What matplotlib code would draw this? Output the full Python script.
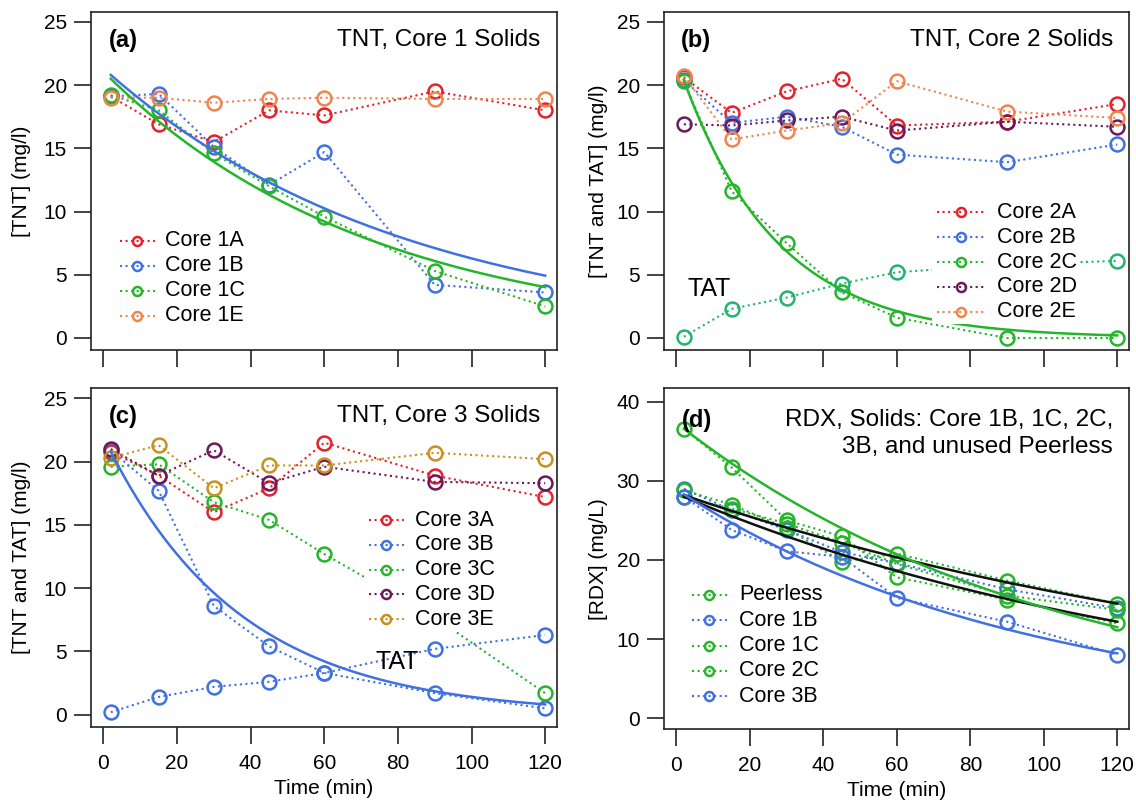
import numpy as np
import matplotlib
matplotlib.use('Agg')
import matplotlib.pyplot as plt
from matplotlib.patches import Rectangle

plt.rcParams['font.family'] = ['Liberation Sans', 'DejaVu Sans']

W, H = 1136, 806

# ---------------- data ----------------
time = [2, 15, 30, 45, 60, 90, 120]

# panel (a)
a_labels = ['Core 1A', 'Core 1B', 'Core 1C', 'Core 1E']
core1A = [19.1, 16.9, 15.5, 18.0, 17.6, 19.5, 18.0]
core1B = [19.1, 19.3, 15.1, 12.1, 14.7, 4.2, 3.6]
core1C = [19.2, 18.0, 14.6, 12.0, 9.6, 5.3, 2.5]
core1E = [19.0, 19.0, 18.6, 18.9, 19.0, 18.9, 18.9]
a_fit_c0 = [20.8, 20.5]        # blue, green (value at t=2)
a_fit_k = [0.0122, 0.0138]

# panel (b)
b_labels = ['Core 2A', 'Core 2B', 'Core 2C', 'Core 2D', 'Core 2E']
core2A = [20.6, 17.8, 19.5, 20.5, 16.8, 17.1, 18.5]
core2B = [20.4, 17.0, 17.5, 16.7, 14.5, 13.9, 15.3]
core2C = [20.3, 11.6, 7.5, 3.6, 1.6, 0.0, 0.0]
core2D = [16.9, 16.8, 17.2, 17.5, 16.4, 17.1, 16.7]
core2E = [20.7, 15.7, 16.4, 17.0, 20.3, 17.9, 17.4]
tat2C = [0.1, 2.3, 3.2, 4.3, 5.2, 5.8, 6.1]
b_fit_c0 = [20.4]
b_fit_k = [0.039]

# panel (c)
c_labels = ['Core 3A', 'Core 3B', 'Core 3C', 'Core 3D', 'Core 3E']
core3A = [20.8, 18.9, 16.0, 17.9, 21.5, 18.9, 17.2]
core3B = [20.9, 17.7, 8.6, 5.4, 3.3, 1.7, 0.5]
core3C = [19.6, 19.8, 16.8, 15.4, 12.7, 7.7, 1.7]
core3D = [21.0, 18.9, 20.9, 18.3, 19.6, 18.4, 18.3]
core3E = [20.3, 21.3, 17.9, 19.7, 19.7, 20.7, 20.2]
tat3B = [0.2, 1.4, 2.2, 2.6, 3.3, 5.2, 6.3]
c_fit_c0 = [20.8]
c_fit_k = [0.0275]

# panel (d)
d_labels = ['Peerless', 'Core 1B', 'Core 1C', 'Core 2C', 'Core 3B']
rdx_peerless = [36.6, 31.7, 25.0, 23.0, 17.8, 15.0, 12.0]
rdx_1B = [29.0, 26.3, 23.8, 21.0, 19.6, 16.3, 13.9]
rdx_1C = [28.8, 27.0, 24.0, 19.8, 20.8, 17.4, 14.5]
rdx_2C = [27.9, 26.5, 24.6, 22.2, 19.5, 15.5, 13.7]
rdx_3B = [28.0, 23.8, 21.1, 20.4, 15.2, 12.2, 8.0]
d_fit_c0 = [28.2, 28.0, 36.6, 28.3]   # black, black, green, blue
d_fit_k = [0.00564, 0.00704, 0.00981, 0.0105]

# ---------------- styles ----------------
RED = '#e4212b'
BLUE = '#4170e0'
GREEN = '#25b52a'
ORANGE = '#f0844e'
PURPLE = '#6a1a5c'
GOLD = '#c8901e'
TEAL = '#22b46e'
BLACK = '#111111'

FS_TICK = 15
FS_LEG = 15.5
FS_TITLE = 17.5

fig = plt.figure(figsize=(W / 100, H / 100), dpi=100)

rects = {
    'a': [90.5, 11.7, 557.3, 350.0],
    'b': [663.6, 11.7, 1129.4, 350.0],
    'c': [90.5, 388.3, 557.3, 726.7],
    'd': [663.6, 388.3, 1129.4, 729.3],
}


def make_ax(key):
    x0, y0, x1, y1 = rects[key]
    ax = fig.add_axes([x0 / W, 1 - y1 / H, (x1 - x0) / W, (y1 - y0) / H])
    for s in ax.spines.values():
        s.set_linewidth(1.2)
        s.set_color('#222222')
    ax.tick_params(axis='both', direction='out', length=12.5, width=1.2,
                   color='#222222', labelsize=FS_TICK, top=False, right=False)
    ax.tick_params(axis='y', pad=4.5)
    ax.tick_params(axis='x', pad=7)
    ax.set_xlim(-3.5, 123.3)
    ax.set_xticks([0, 20, 40, 60, 80, 100, 120])
    return ax


def px2ax(ax, x, y):
    pos = ax.get_position()
    fx = x / W
    fy = 1 - y / H
    return (fx - pos.x0) / pos.width, (fy - pos.y0) / pos.height


def series(ax, y, color, z=3):
    ax.plot(time, y, ls=':', lw=1.5, color=color, marker='o', ms=10,
            mfc='none', mec=color, mew=1.8, zorder=z)


def fit(ax, c0, k, color):
    t = np.linspace(time[0], time[-1], 200)
    ax.plot(t, c0 * np.exp(-k * (t - time[0])), '-', lw=1.8, color=color, zorder=4)


def legend(ax, labels, colors, x0, x1, xt, y_first, dy, x_right):
    n = len(labels)
    bx0, by_top = px2ax(ax, x0 - 5, y_first - 12.5)
    bx1, by_bot = px2ax(ax, x_right, y_first + (n - 1) * dy + 12.5)
    ax.add_patch(Rectangle((bx0, by_bot), bx1 - bx0, by_top - by_bot,
                           transform=ax.transAxes, facecolor='white',
                           edgecolor='none', zorder=5))
    for i, (lab, col) in enumerate(zip(labels, colors)):
        y = y_first + i * dy
        ax0, ay = px2ax(ax, x0, y)
        ax1, _ = px2ax(ax, x1, y)
        axt, _ = px2ax(ax, xt, y)
        ax.plot([ax0, ax1], [ay, ay], transform=ax.transAxes, ls=':', lw=1.5,
                color=col, zorder=6)
        ax.plot([(ax0 + ax1) / 2], [ay], transform=ax.transAxes, marker='o',
                ms=6.5, mfc='none', mec=col, mew=1.8, zorder=7)
        ax.text(axt, ay, lab, transform=ax.transAxes, ha='left', va='center',
                fontsize=FS_LEG, zorder=7)


def titles(ax, letter, lx, ly, lines, rx, ys):
    x, y = px2ax(ax, lx, ly)
    ax.text(x, y, letter, transform=ax.transAxes, ha='left', va='center',
            fontsize=17, fontweight='bold', zorder=8)
    for line, yy in zip(lines, ys):
        x, y = px2ax(ax, rx, yy)
        ax.text(x, y, line, transform=ax.transAxes, ha='right', va='center',
                fontsize=FS_TITLE, zorder=8)


def ylab(ax, text, xc):
    ax.set_ylabel(text, fontsize=15, va='center')
    x, _ = px2ax(ax, xc, 0)
    ax.yaxis.set_label_coords(x, 0.5)


def xlab(ax, yc):
    ax.set_xlabel('Time (min)', fontsize=15, va='center')
    _, y = px2ax(ax, 0, yc)
    ax.xaxis.set_label_coords(0.5, y)


# ---------------- panel (a) ----------------
ax = make_ax('a')
for y, c in zip([core1A, core1B, core1C, core1E], [RED, BLUE, GREEN, ORANGE]):
    series(ax, y, c)
for c0, k, c in zip(a_fit_c0, a_fit_k, [BLUE, GREEN]):
    fit(ax, c0, k, c)
ax.set_ylim(-0.95, 25.8)
ax.set_yticks([0, 5, 10, 15, 20, 25])
ax.tick_params(labelbottom=False)
legend(ax, a_labels, [RED, BLUE, GREEN, ORANGE], 120, 154.5, 165.4, 240.7, 25.1, 250)
titles(ax, '(a)', 109, 41, ['TNT, Core 1 Solids'], 540, [40])
ylab(ax, '[TNT] (mg/l)', 22)

# ---------------- panel (b) ----------------
ax = make_ax('b')
for y, c in zip([core2A, core2B, core2C, core2D, core2E, tat2C],
                [RED, BLUE, GREEN, PURPLE, ORANGE, TEAL]):
    series(ax, y, c)
for c0, k in zip(b_fit_c0, b_fit_k):
    fit(ax, c0, k, GREEN)
ax.set_ylim(-0.95, 25.8)
ax.set_yticks([0, 5, 10, 15, 20, 25])
ax.tick_params(labelbottom=False)
legend(ax, b_labels, [RED, BLUE, GREEN, PURPLE, ORANGE], 936.6, 986.2, 997.2, 212.3, 24.85, 1078)
titles(ax, '(b)', 681, 41, ['TNT, Core 2 Solids'], 1113, [40])
ax.text(3.0, 3.85, 'TAT', ha='left', va='center', fontsize=18, zorder=8)
ylab(ax, '[TNT and TAT] (mg/l)', 598.6)

# ---------------- panel (c) ----------------
ax = make_ax('c')
for y, c in zip([core3A, core3B, core3C, core3D, core3E, tat3B],
                [RED, BLUE, GREEN, PURPLE, GOLD, BLUE]):
    series(ax, y, c)
for c0, k in zip(c_fit_c0, c_fit_k):
    fit(ax, c0, k, BLUE)
ax.set_ylim(-0.95, 25.8)
ax.set_yticks([0, 5, 10, 15, 20, 25])
legend(ax, c_labels, [RED, BLUE, GREEN, PURPLE, GOLD], 369, 403.5, 415.5, 520, 24.8, 498)
titles(ax, '(c)', 109, 416.7, ['TNT, Core 3 Solids'], 540.5, [416])
ax.text(74.0, 4.15, 'TAT', ha='left', va='center', fontsize=18, zorder=8)
ylab(ax, '[TNT and TAT] (mg/l)', 22)
xlab(ax, 788)

# ---------------- panel (d) ----------------
ax = make_ax('d')
for y, c in zip([rdx_peerless, rdx_1B, rdx_1C, rdx_2C, rdx_3B],
                [GREEN, BLUE, GREEN, GREEN, BLUE]):
    series(ax, y, c)
for c0, k, c in zip(d_fit_c0, d_fit_k, [BLACK, BLACK, GREEN, BLUE]):
    fit(ax, c0, k, c)
ax.set_ylim(-1.4, 41.7)
ax.set_yticks([0, 10, 20, 30, 40])
legend(ax, d_labels, [GREEN, BLUE, GREEN, GREEN, BLUE], 691.5, 727.2, 739, 595, 25.25, 830)
titles(ax, '(d)', 682, 420,
       ['RDX, Solids: Core 1B, 1C, 2C,', '3B, and unused Peerless'],
       1113, [420, 446.7])
ylab(ax, '[RDX] (mg/L)', 598.6)
xlab(ax, 791)

fig.savefig('out.png', dpi=100)
